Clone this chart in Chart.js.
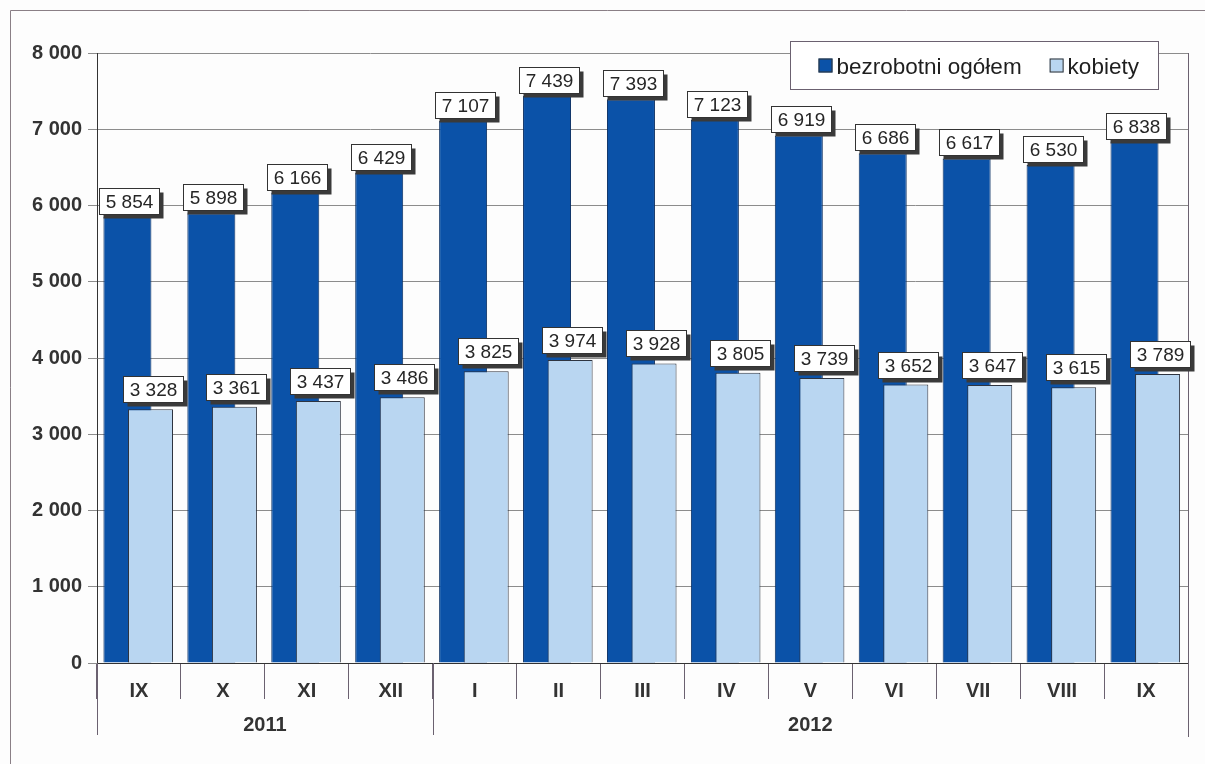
<!DOCTYPE html>
<html>
<head>
<meta charset="utf-8">
<script src="https://cdn.jsdelivr.net/npm/chart.js@4/dist/chart.umd.min.js"></script>
<style>
  html, body { margin: 0; padding: 0; background: #fdfdfd; }
  #wrap { width: 1205px; height: 764px; position: relative; }
</style>
</head>
<body>
<div id="wrap"><canvas id="c" width="1205" height="764"></canvas></div>
<script>
// ---- data ----
const months = ['IX', 'X', 'XI', 'XII', 'I', 'II', 'III', 'IV', 'V', 'VI', 'VII', 'VIII', 'IX'];
const years = ['2011', '2011', '2011', '2011', '2012', '2012', '2012', '2012', '2012', '2012', '2012', '2012', '2012'];
const totalUnemployed = [5854, 5898, 6166, 6429, 7107, 7439, 7393, 7123, 6919, 6686, 6617, 6530, 6838];
const women = [3328, 3361, 3437, 3486, 3825, 3974, 3928, 3805, 3739, 3652, 3647, 3615, 3789];
const seriesNames = ['bezrobotni ogółem', 'kobiety'];
const yTicks = [0, 1000, 2000, 3000, 4000, 5000, 6000, 7000, 8000];

const DARK = '#0b52a8';
const LIGHT = '#b9d6f1';
const FONT = 'Arial, "Liberation Sans", sans-serif';
const fmt = v => String(Math.round(v)).replace(/\B(?=(\d{3})+(?!\d))/g, ' ');

// background + outer frame
const framePlugin = {
  id: 'frame',
  beforeDraw(chart) {
    const ctx = chart.ctx;
    ctx.save();
    ctx.fillStyle = '#fdfdfd';
    ctx.fillRect(0, 0, chart.width, chart.height);
    ctx.strokeStyle = '#8a7f86';
    ctx.lineWidth = 1;
    ctx.beginPath();
    ctx.moveTo(10.5, chart.height);
    ctx.lineTo(10.5, 10.5);
    ctx.lineTo(chart.width, 10.5);
    ctx.stroke();
    ctx.restore();
  }
};

// draw datasets in index order so the light bars lie on top of the dark ones
const drawOrderPlugin = {
  id: 'drawOrder',
  beforeDatasetsDraw(chart) {
    const a = chart.chartArea;
    const ctx = chart.ctx;
    ctx.save();
    ctx.beginPath();
    ctx.rect(a.left, a.top - 2, a.right - a.left, a.bottom - a.top + 2);
    ctx.clip();
    for (let i = 0; i < chart.data.datasets.length; i++) {
      const meta = chart.getDatasetMeta(i);
      if (!meta.hidden) meta.controller.draw();
    }
    ctx.restore();
    return false;
  }
};

// x axis group row (years), long separators, right plot border
const axisPlugin = {
  id: 'axisGroups',
  afterDraw(chart) {
    const ctx = chart.ctx;
    const xs = chart.scales.x;
    const a = chart.chartArea;
    const n = months.length;
    const boundary = i => {
      if (i <= 0) return a.left;
      if (i >= n) return a.right;
      return (xs.getPixelForValue(i - 1) + xs.getPixelForValue(i)) / 2;
    };
    ctx.save();
    ctx.strokeStyle = '#6b6170';
    ctx.lineWidth = 1;
    // right border of plot
    ctx.beginPath();
    ctx.moveTo(Math.round(a.right) + 0.5, a.top);
    ctx.lineTo(Math.round(a.right) + 0.5, a.bottom + 74);
    ctx.stroke();
    // group spans
    const groups = [];
    years.forEach((y, i) => {
      if (!groups.length || groups[groups.length - 1].label !== y) groups.push({ label: y, start: i, end: i });
      else groups[groups.length - 1].end = i;
    });
    ctx.font = 'bold 20px ' + FONT;
    ctx.fillStyle = '#333';
    ctx.textAlign = 'center';
    ctx.textBaseline = 'middle';
    groups.forEach(g => {
      const x0 = boundary(g.start), x1 = boundary(g.end + 1);
      [x0, x1].forEach(x => {
        ctx.beginPath();
        ctx.moveTo(Math.round(x) + 0.5, a.bottom);
        ctx.lineTo(Math.round(x) + 0.5, a.bottom + 72);
        ctx.stroke();
      });
      ctx.fillText(g.label, (x0 + x1) / 2, a.bottom + 62);
    });
    ctx.restore();
  }
};

// value labels in white boxes with a drop shadow
const labelPlugin = {
  id: 'valueBoxes',
  afterDraw(chart) {
    const ctx = chart.ctx;
    ctx.save();
    ctx.font = '19px ' + FONT;
    ctx.textAlign = 'center';
    ctx.textBaseline = 'middle';
    const gaps = [3, 7];
    chart.data.datasets.forEach((ds, di) => {
      const meta = chart.getDatasetMeta(di);
      meta.data.forEach((bar, i) => {
        const txt = fmt(ds.data[i]);
        const w = Math.round(ctx.measureText(txt).width + 12);
        const h = 26;
        const cx = bar.x + 2;
        const bottom = bar.y - gaps[di];
        const x = Math.round(cx - w / 2) + 0.5;
        const y = Math.round(bottom - h) + 0.5;
        ctx.fillStyle = '#3a3a3a';
        ctx.fillRect(x + 4, y + 4, w, h);
        ctx.fillStyle = '#ffffff';
        ctx.fillRect(x, y, w, h);
        ctx.strokeStyle = '#333';
        ctx.lineWidth = 1;
        ctx.strokeRect(x, y, w, h);
        ctx.fillStyle = '#262626';
        ctx.fillText(txt, x + w / 2, y + h / 2 + 1);
      });
    });
    ctx.restore();
  }
};

// legend in a framed box overlapping the plot top
const legendPlugin = {
  id: 'boxLegend',
  afterDraw(chart) {
    const ctx = chart.ctx;
    const left = 790.5, top = 41.5, width = 368, height = 48;
    ctx.save();
    ctx.fillStyle = '#ffffff';
    ctx.fillRect(left, top, width, height);
    ctx.strokeStyle = '#6b6170';
    ctx.lineWidth = 1;
    ctx.strokeRect(left, top, width, height);
    ctx.font = '22.5px ' + FONT;
    ctx.textBaseline = 'alphabetic';
    ctx.textAlign = 'left';
    let x = left + 28;
    const baseY = top + 32;
    chart.data.datasets.forEach((ds, i) => {
      ctx.fillStyle = ds.backgroundColor;
      ctx.fillRect(x, top + 17, 14, 14);
      ctx.strokeStyle = '#333';
      ctx.strokeRect(x + 0.5, top + 17.5, 13, 13);
      x += 18;
      ctx.fillStyle = '#1e1e1e';
      ctx.fillText(ds.label, x, baseY);
      x += ctx.measureText(ds.label).width + 28;
    });
    ctx.restore();
  }
};

new Chart(document.getElementById('c'), {
  type: 'bar',
  data: {
    labels: months,
    datasets: [
      {
        label: seriesNames[0],
        data: totalUnemployed,
        backgroundColor: DARK,
        borderColor: '#0a2f63',
        borderWidth: 1,
        categoryPercentage: 0.55,
        barPercentage: 2.08
      },
      {
        label: seriesNames[1],
        data: women,
        backgroundColor: LIGHT,
        borderColor: '#2e3440',
        borderWidth: 1,
        categoryPercentage: 0.55,
        barPercentage: 1.95
      }
    ]
  },
  options: {
    responsive: false,
    animation: false,
    events: [],
    layout: { padding: { left: 0, right: 17, top: 53, bottom: 0 } },
    plugins: {
      legend: { display: false },
      tooltip: { enabled: false }
    },
    scales: {
      x: {
        offset: true,
        grid: {
          offset: true,
          drawOnChartArea: false,
          drawTicks: true,
          tickLength: 36,
          color: '#6b6170',
          lineWidth: 1
        },
        border: { display: true, color: '#333', width: 1 },
        ticks: {
          padding: -20,
          color: '#333',
          font: { family: FONT, size: 20, weight: 'bold' },
          maxRotation: 0,
          autoSkip: false
        },
        afterFit(scale) { scale.height = 101; }
      },
      y: {
        min: 0,
        max: 8000,
        afterBuildTicks(scale) { scale.ticks = yTicks.map(v => ({ value: v })); },
        grid: {
          color: '#8c8c8c',
          lineWidth: 1,
          tickLength: 9,
          drawTicks: true
        },
        border: { display: true, color: '#333', width: 1 },
        ticks: {
          padding: 6,
          color: '#333',
          font: { family: FONT, size: 20, weight: 'bold' },
          callback: v => fmt(v)
        },
        afterFit(scale) { scale.width = 97; }
      }
    }
  },
  plugins: [framePlugin, drawOrderPlugin, axisPlugin, labelPlugin, legendPlugin]
});
</script>
</body>
</html>
